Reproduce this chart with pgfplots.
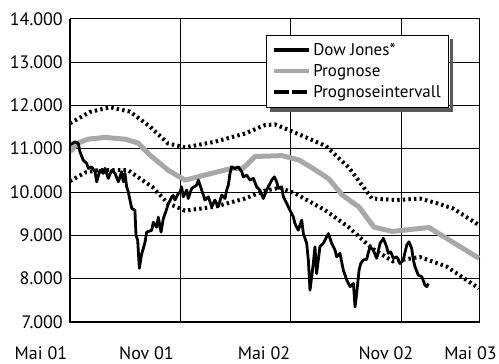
\documentclass[border=0pt]{standalone}
\usepackage{fontspec}
\setmainfont{PT Sans}
\usepackage{pgfplots}
\pgfplotsset{compat=1.18}
\definecolor{proggray}{RGB}{168,168,168}

\begin{document}
\begin{tikzpicture}
\begin{axis}[
  scale only axis, width=409pt, height=303.3pt,
  xmin=0, xmax=22.24, ymin=7000, ymax=14000,
  xtick={0,6,12,18}, xticklabels={},
  ytick={7000,8000,...,14000},
  scaled y ticks=false,
  major tick length=0pt,
  grid=major, grid style={black, line width=0.8pt},
  axis line style={black, line width=0.8pt},
  /pgf/number format/1000 sep={.},
  /pgf/number format/assume math mode=true,
  yticklabel style={font=\fontsize{18}{20}\selectfont, inner sep=0pt, xshift=-7pt},
  clip=false,
  legend image code/.code={\draw[#1] (0pt,0pt) -- (35pt,0pt);},
  legend cell align=left,
  legend style={name=leg, at={(0.479,0.946)}, anchor=north west, draw=black, line width=0.8pt,
    fill=white, font=\fontsize{17}{19}\selectfont, inner xsep=6pt, inner ysep=6pt,
    row sep=3.5pt},
]
% Prognose
\addplot[proggray, line width=5pt, line join=round, forget plot] coordinates {
(0,10930) (0.44,11130) (0.98,11220) (1.90,11260) (2.99,11220) (3.71,11130)
(4.35,10850) (5.35,10500) (6.25,10275) (7.61,10420) (8.79,10545) (9.41,10545)
(10.06,10820) (11.53,10840) (12.45,10740) (13.36,10505) (14.08,10300)
(14.81,9930) (15.72,9650) (16.53,9190) (17.53,9090) (19.52,9180) (22.24,8470)
};
% upper interval
\addplot[black, line width=4pt, dash pattern=on 2.4pt off 3.2pt, forget plot] coordinates {
(0,11585) (1.09,11850) (2.18,11955) (3.26,11855) (4.35,11510) (5.33,11120)
(6.25,11030) (7.88,11160) (9.52,11350) (10.60,11545) (11.15,11560) (12.13,11390)
(13.92,11060) (15.17,10560) (16.42,9850) (17.78,9815) (19.03,9850) (19.96,9740)
(20.83,9620) (22.24,9235)
};
% lower interval
\addplot[black, line width=4pt, dash pattern=on 2.4pt off 3.2pt, forget plot] coordinates {
(0,10250) (0.82,10450) (1.52,10505) (3.15,10505) (4.46,10120) (5.33,9740)
(6.25,9570) (7.88,9660) (9.52,9850) (10.60,10030) (11.42,10100) (12.23,9970)
(13.87,9580) (15.12,9200) (16.42,8700) (17.56,8400) (19.03,8500) (20.50,8275)
(22.24,7775)
};
% Dow Jones
\addplot[black, line width=2.8pt, line join=round, forget plot] coordinates {
(0.00,11085) (0.27,11160) (0.45,11120) (0.54,10930) (0.72,10735) (0.91,10660)
(1.00,10545) (1.18,10580) (1.36,10470) (1.45,10235) (1.63,10505) (1.81,10430)
(1.90,10545) (2.08,10315) (2.27,10505) (2.45,10430) (2.63,10235) (2.81,10470)
(2.90,10235) (2.99,10430) (3.08,10120) (3.17,10005) (3.26,9815) (3.36,9620)
(3.53,9580) (3.59,9000) (3.68,8890) (3.77,8240) (3.90,8575) (3.99,8700)
(4.08,8845) (4.17,9075) (4.44,9115) (4.53,9305) (4.71,9190) (4.80,9420)
(4.95,9075) (5.07,9380) (5.26,9610) (5.35,9740) (5.44,9800) (5.53,9890)
(5.62,9920) (5.71,9815) (5.89,9970) (5.98,9990) (6.07,10120) (6.16,9890)
(6.35,10045) (6.43,9850) (6.62,10085) (6.89,10160) (6.98,10275) (7.16,10045)
(7.34,9815) (7.52,9890) (7.71,9660) (7.88,9815) (8.06,9660) (8.25,9930)
(8.43,9850) (8.52,10045) (8.61,10160) (8.70,10430) (8.79,10580) (8.97,10540)
(9.15,10580) (9.34,10470) (9.42,10350) (9.61,10390) (9.79,10275) (9.97,10315)
(10.15,10120) (10.33,10045) (10.51,9850) (10.70,10045) (10.78,10120) (10.97,10275)
(11.11,10350) (11.24,10235) (11.33,10085) (11.51,10120) (11.60,9890) (11.78,9740)
(11.96,9580) (12.14,9430) (12.23,9275) (12.41,9120) (12.60,9350) (12.69,9040)
(12.87,8815) (12.96,8430) (13.05,7735) (13.23,8350) (13.32,8735) (13.41,8120)
(13.59,8735) (13.77,8815) (13.96,8965) (14.05,9040) (14.23,8815) (14.41,8660)
(14.50,8505) (14.68,8585) (14.86,8200) (15.05,7970) (15.23,7815) (15.41,7890)
(15.50,7350) (15.59,7660) (15.72,8200) (15.81,8350) (15.95,8430) (16.13,8450)
(16.31,8735) (16.49,8660) (16.68,8470) (16.86,8815) (17.04,8930) (17.22,8735)
(17.31,8585) (17.44,8620) (17.58,8470) (17.77,8505) (17.94,8350) (18.12,8430)
(18.31,8775) (18.43,8850) (18.58,8700) (18.67,8430) (18.76,8275) (18.94,8080)
(19.13,8045) (19.30,7850) (19.40,7815) (19.48,7890)
};
\draw[black, line width=2pt] (rel axis cs:0,1) -- (rel axis cs:0,0) -- (rel axis cs:1,0);
\coordinate (O) at (rel axis cs:0,0);
\addlegendimage{black, line width=4pt}
\addlegendentry{Dow Jones*}
\addlegendimage{proggray, line width=4pt}
\addlegendentry{Prognose}
\addlegendimage{black, line width=4pt, dash pattern=on 15pt off 3pt}
\addlegendentry{Prognoseintervall}
\node[anchor=base, font=\fontsize{18}{20}\selectfont, yshift=-38pt] at (axis cs:-1.58,7000) {Mai 01};
\node[anchor=base, font=\fontsize{18}{20}\selectfont, yshift=-38pt] at (axis cs:4.16,7000) {Nov 01};
\node[anchor=base, font=\fontsize{18}{20}\selectfont, yshift=-38pt] at (axis cs:10.55,7000) {Mai 02};
\node[anchor=base, font=\fontsize{18}{20}\selectfont, yshift=-38pt] at (axis cs:17.18,7000) {Nov 02};
\node[anchor=base, font=\fontsize{18}{20}\selectfont, yshift=-38pt] at (axis cs:21.78,7000) {Mai 03};
\end{axis}
\fill[black!65] ([shift={(0.4pt,-4pt)}]leg.north east) rectangle ([shift={(4pt,-4pt)}]leg.south east);
\fill[black!65] ([shift={(4pt,-0.4pt)}]leg.south west) rectangle ([shift={(4pt,-4pt)}]leg.south east);
\pgfresetboundingbox
\path (O) ++(-70pt,-42pt) rectangle ++(499pt,364pt);
\end{tikzpicture}
\end{document}
